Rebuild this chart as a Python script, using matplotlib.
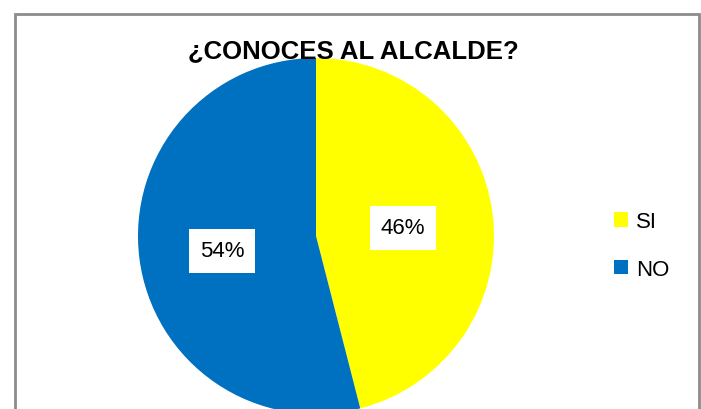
import matplotlib.pyplot as plt
from matplotlib.patches import Rectangle

# Data
labels = ["SI", "NO"]
values = [46, 54]
colors = ["#FFFF00", "#0070C0"]

plt.rcParams['font.family'] = ['Liberation Sans', 'DejaVu Sans']

fig = plt.figure(figsize=(7.01, 4.10), dpi=100)
W, H = 701, 410

# outer chart frame (cut off at the bottom)
fig.patches.append(Rectangle((15 / W, -0.05), 684 / W, (H - 15) / H + 0.05,
                             transform=fig.transFigure, fill=False,
                             edgecolor="#8c8c8c", linewidth=2))

# pie axes: centre (316, 237) px, radius 178 px
cx, cy, r = 316, 237, 178
ax = fig.add_axes([(cx - r) / W, (H - cy - r) / H, 2 * r / W, 2 * r / H])
wedges, texts, autotexts = ax.pie(values, colors=colors, startangle=90, counterclock=False,
                                  autopct='%1.0f%%', pctdistance=0.5, radius=1.0,
                                  textprops=dict(fontsize=16, color='black'))
# label spots as in the original chart
label_pos = [(0.489, 0.045), (-0.528, -0.084)]
for t, p in zip(autotexts, label_pos):
    t.set_position(p)
    t.set_bbox(dict(facecolor='white', edgecolor='none', pad=8))
ax.set_xlim(-1, 1)
ax.set_ylim(-1, 1)
ax.set_aspect('equal')

fig.text(353 / W, 1 - 51 / H, "¿CONOCES AL ALCALDE?", ha='center', va='center',
         fontsize=18.5, fontweight='bold')

fig.legend(wedges, labels, loc='center left', bbox_to_anchor=(614 / W, 1 - 246.5 / H),
           frameon=False, fontsize=16, handlelength=0.65, handleheight=0.65,
           labelspacing=1.2, handletextpad=0.33, borderpad=0, borderaxespad=0)

fig.savefig("out.png", dpi=100)
